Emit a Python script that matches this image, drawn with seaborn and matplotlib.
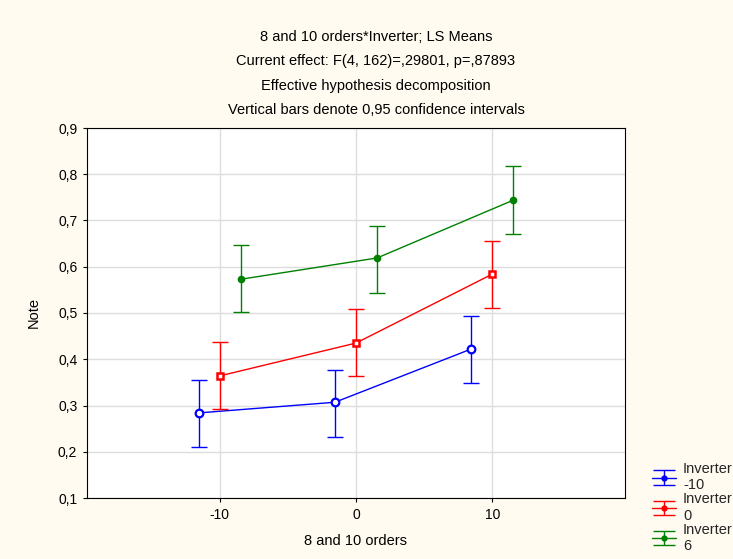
import numpy as np
import pandas as pd
import seaborn as sns
import matplotlib.pyplot as plt

# data
orders = [-10, 0, 10]
inverters = ["-10", "0", "6"]
means_m10 = [0.284, 0.307, 0.422]
lo_m10 = [0.210, 0.232, 0.349]
hi_m10 = [0.355, 0.377, 0.494]
means_0 = [0.364, 0.435, 0.584]
lo_0 = [0.292, 0.364, 0.511]
hi_0 = [0.437, 0.509, 0.656]
means_6 = [0.573, 0.619, 0.744]
lo_6 = [0.502, 0.543, 0.671]
hi_6 = [0.647, 0.688, 0.818]

series = {"-10": (means_m10, lo_m10, hi_m10),
          "0": (means_0, lo_0, hi_0),
          "6": (means_6, lo_6, hi_6)}
offsets = {"-10": -1.55, "0": 0.0, "6": 1.55}
colors = {"-10": "#0000FF", "0": "#FF0000", "6": "#008000"}

rows = []
for inv in inverters:
    m, lo, hi = series[inv]
    for o, mv, l, h in zip(orders, m, lo, hi):
        rows.append({"order": o, "x": o + offsets[inv], "Inverter": inv,
                     "mean": mv, "lo": l, "hi": h})
df = pd.DataFrame(rows)

sns.set_theme(style="whitegrid")
plt.rcParams['font.family'] = ['Liberation Sans', 'DejaVu Sans']

fig = plt.figure(figsize=(7.33, 5.59), dpi=100, facecolor="#FFFBF0")
ax = fig.add_axes([87 / 733, 1 - 498 / 559, (625 - 87) / 733, (498 - 128) / 559])
ax.set_facecolor("white")

sns.lineplot(data=df, x="x", y="mean", hue="Inverter", palette=colors,
             linewidth=1, legend=False, ax=ax, sort=True)

handles = []
marker_kw = {"-10": dict(marker="o", mfc="white", mec="#0000FF", ms=5.5, mew=1.6),
             "0": dict(marker="s", mfc="white", mec="#FF0000", ms=5, mew=1.8),
             "6": dict(marker="o", mfc="#008000", mec="#008000", ms=4.5, mew=1)}
for inv in inverters:
    d = df[df["Inverter"] == inv]
    yerr = np.vstack([d["mean"] - d["lo"], d["hi"] - d["mean"]])
    ax.errorbar(d["x"], d["mean"], yerr=yerr, fmt="none", ecolor=colors[inv],
                elinewidth=1, capsize=6, capthick=1, zorder=2)
    ax.plot(d["x"], d["mean"], linestyle="none", zorder=4, **marker_kw[inv])
    # legend-only handle (drawn off the visible range)
    h = ax.errorbar([100], [5], yerr=[[1]], fmt="-", marker=".", color=colors[inv],
                    ms=7, lw=1, elinewidth=1, capsize=8, capthick=1)
    handles.append(h)

ax.set_xlim(-19.75, 19.75)
ax.set_ylim(0.1, 0.9)
ax.set_xticks(orders)
ax.set_xticklabels([str(o) for o in orders])
yt = np.arange(0.1, 0.91, 0.1)
ax.set_yticks(yt)
ax.set_yticklabels([f"{v:.1f}".replace(".", ",") for v in yt])
ax.grid(True, color="#DDDDDD", linewidth=1)
for s in ax.spines.values():
    s.set_visible(True)
    s.set_color("black")
    s.set_linewidth(0.8)
ax.tick_params(axis="both", direction="out", length=3, width=0.8, color="black",
               labelsize=10, labelcolor="black", left=True, bottom=True, pad=4)
ax.set_xlabel("8 and 10 orders", fontsize=10.5, color="black", labelpad=9)
ax.set_ylabel("Note", fontsize=10.5, color="black", labelpad=12)

titles = ["8 and 10 orders*Inverter; LS Means",
          "Current effect: F(4, 162)=,29801, p=,87893",
          "Effective hypothesis decomposition",
          "Vertical bars denote 0,95 confidence intervals"]
for i, t in enumerate(titles):
    fig.text(376 / 733, 1 - (37 + 24.5 * i) / 559, t, ha="center", va="center",
             fontsize=10.5, color="black")

fig.legend(handles, [f"Inverter\n{inv}" for inv in inverters],
           loc="upper left", bbox_to_anchor=(645 / 733, 1 - 455 / 559),
           frameon=False, fontsize=10.5, handlelength=1.6, handletextpad=0.5,
           labelspacing=0.0, borderpad=0)

fig.savefig("out.png", dpi=100, facecolor=fig.get_facecolor())
